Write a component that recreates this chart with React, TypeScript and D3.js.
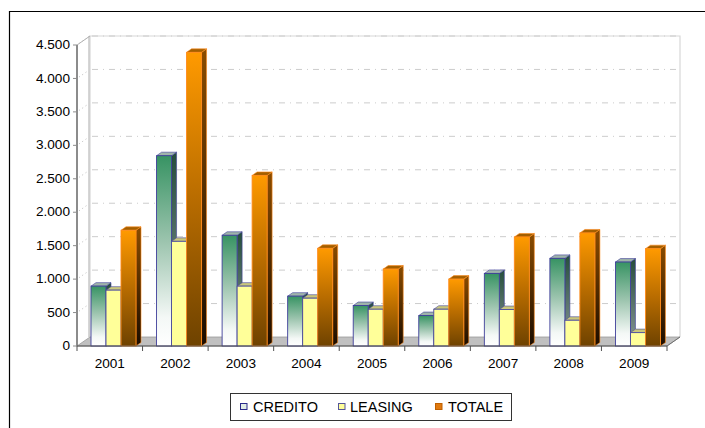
import React from "react";
import * as d3 from "d3";

const categories = ["2001", "2002", "2003", "2004", "2005", "2006", "2007", "2008", "2009"];
const credito = [895, 2845, 1655, 745, 605, 455, 1085, 1310, 1255];
const leasing = [835, 1565, 895, 715, 550, 550, 545, 385, 200];
const totale = [1730, 4390, 2550, 1460, 1150, 1000, 1630, 1690, 1455];
const yTicks = [0, 500, 1000, 1500, 2000, 2500, 3000, 3500, 4000, 4500];
const seriesNames = ["CREDITO", "LEASING", "TOTALE"];

const W = 705;
const H = 428;
const X0 = 77;
const X1 = 667;
const Y0 = 346;
const Y1 = 45;
const DX = 13;
const DY = -9;
const BDX = 5;
const BDY = -3.5;

const fmt = (v: number) => d3.format(",")(v).replace(/,/g, ".");

export default function App() {
  const y = d3.scaleLinear().domain([0, 4500]).range([Y0, Y1]);
  const x = d3.scaleBand<string>().domain(categories).range([X0, X1]).paddingInner(0).paddingOuter(0);
  const inner = d3.scaleBand<string>().domain(seriesNames).range([14, 59]).padding(0);
  const data = [credito, leasing, totale];

  const styles = [
    { front: "url(#gCredFront)", top: "#9fb4aa", side: "url(#gCredSide)", stroke: "#3f3f9a" },
    { front: "#ffff99", top: "#c9c77c", side: "#a8a860", stroke: "#4a4a9e" },
    { front: "url(#gTotFront)", top: "#a35f00", side: "url(#gTotSide)", stroke: "#ff8a1a" },
  ];

  const bars: React.ReactNode[] = [];
  categories.forEach((c, ci) => {
    data.forEach((arr, si) => {
      const v = arr[ci];
      const bx = (x(c) as number) + (inner(seriesNames[si]) as number);
      const bw = inner.bandwidth();
      const top = y(v);
      const st = styles[si];
      const topPts = `${bx},${top} ${bx + BDX},${top + BDY} ${bx + bw + BDX},${top + BDY} ${bx + bw},${top}`;
      const sidePts = `${bx + bw},${top} ${bx + bw + BDX},${top + BDY} ${bx + bw + BDX},${Y0 + BDY} ${bx + bw},${Y0}`;
      bars.push(
        <g key={`${c}-${si}`}>
          <polygon points={sidePts} fill={st.side} stroke={st.stroke} strokeWidth={0.6} />
          <polygon points={topPts} fill={st.top} stroke={st.stroke} strokeWidth={0.6} />
          <rect x={bx} y={top} width={bw} height={Y0 - top} fill={st.front} stroke={st.stroke} strokeWidth={0.9} />
        </g>
      );
    });
  });

  const font = "'Liberation Sans', Arial, sans-serif";

  return (
    <svg width={W} height={H} style={{ position: "absolute", left: 0, top: 0 }} fontFamily={font}>
      <defs>
        <linearGradient id="gCredFront" x1="0" y1="0" x2="0" y2="1">
          <stop offset="0" stopColor="#379363" />
          <stop offset="0.45" stopColor="#9cc4ae" />
          <stop offset="0.85" stopColor="#f4f8f6" />
          <stop offset="1" stopColor="#ffffff" />
        </linearGradient>
        <linearGradient id="gCredSide" x1="0" y1="0" x2="0" y2="1">
          <stop offset="0" stopColor="#264e3c" />
          <stop offset="1" stopColor="#8a9898" />
        </linearGradient>
        <linearGradient id="gTotFront" x1="0" y1="0" x2="0" y2="1">
          <stop offset="0" stopColor="#ff9a00" />
          <stop offset="0.5" stopColor="#b86c00" />
          <stop offset="1" stopColor="#6e4200" />
        </linearGradient>
        <linearGradient id="gTotSide" x1="0" y1="0" x2="0" y2="1">
          <stop offset="0" stopColor="#8a4c00" />
          <stop offset="1" stopColor="#1a0c00" />
        </linearGradient>
      </defs>
      <rect x={0} y={0} width={W} height={H} fill="#ffffff" />
      <path d={`M9.5,${H} V11.5 H${W}`} fill="none" stroke="#000" strokeWidth={1.2} />

      {/* back wall */}
      <polyline points={`${X0 + DX},${Y0 + DY} ${X0 + DX},${Y1 + DY} ${X1 + DX},${Y1 + DY} ${X1 + DX},${Y0 + DY}`} fill="none" stroke="#d8d8d8" strokeWidth={1.2} />
      <line x1={X0 + DX - 1} x2={X0 + DX - 1} y1={Y1 + DY} y2={Y0 + DY} stroke="#c8c8c8" strokeWidth={1.5} />
      <line x1={X0} y1={Y1} x2={X0 + DX} y2={Y1 + DY} stroke="#b0b0b0" strokeWidth={1} />
      {yTicks.filter((t) => t > 0).map((t) => (
        <g key={t}>
          <line x1={X0 + DX + 2} x2={X1 + DX} y1={y(t) + DY} y2={y(t) + DY} stroke="#cccccc" strokeWidth={1} strokeDasharray="6,5,1,5" />
          <line x1={X0 + 2} y1={y(t) - 1.4} x2={X0 + DX - 2} y2={y(t) + DY + 1.4} stroke="#bbbbbb" strokeWidth={1} strokeDasharray="1,3" />
        </g>
      ))}

      {/* floor */}
      <polygon points={`${X0},${Y0} ${X0 + DX},${Y0 + DY} ${X1 + DX},${Y0 + DY} ${X1},${Y0}`} fill="#c0c0c0" stroke="#9a9a9a" strokeWidth={0.8} />

      {bars}

      {/* y axis */}
      <line x1={X0} x2={X0} y1={Y1} y2={Y0} stroke="#8c8c8c" strokeWidth={2} />
      {yTicks.map((t) => (
        <g key={t}>
          <line x1={X0 - 4} x2={X0} y1={y(t)} y2={y(t)} stroke="#8c8c8c" strokeWidth={1} />
          <text x={X0 - 7} y={y(t)} dy="0.3em" textAnchor="end" fontSize={13.6} fill="#000">{fmt(t)}</text>
        </g>
      ))}

      {/* x axis */}
      <line x1={X0} x2={X1} y1={Y0} y2={Y0} stroke="#505050" strokeWidth={1.2} />
      <line x1={X1} y1={Y0} x2={X1 + DX} y2={Y0 + DY} stroke="#707070" strokeWidth={1} />
      {categories.map((c) => (
        <g key={c}>
          <line x1={(x(c) as number)} x2={(x(c) as number)} y1={Y0} y2={Y0 + 5} stroke="#505050" strokeWidth={1} />
          <text x={(x(c) as number) + x.bandwidth() / 2} y={Y0 + 17} dy="0.35em" textAnchor="middle" fontSize={13.6} fill="#000">{c}</text>
        </g>
      ))}
      <line x1={X1} x2={X1} y1={Y0} y2={Y0 + 5} stroke="#505050" strokeWidth={1} />

      {/* legend */}
      <rect x={230.5} y={393.5} width={281} height={27} fill="#fff" stroke="#333" strokeWidth={1} />
      {[
        { name: "CREDITO", x: 240, fill: "#e0ece6", stroke: "#2a2a8a", tx: 253 },
        { name: "LEASING", x: 338, fill: "#ffff99", stroke: "#555599", tx: 350 },
        { name: "TOTALE", x: 435, fill: "#e07a10", stroke: "#c06000", tx: 448 },
      ].map((l) => (
        <g key={l.name}>
          <rect x={l.x + 0.5} y={403.5} width={6.5} height={6} fill={l.fill} stroke={l.stroke} strokeWidth={1} />
          <text x={l.tx} y={406.5} dy="0.35em" fontSize={14.5} fill="#000">{l.name}</text>
        </g>
      ))}
    </svg>
  );
}
